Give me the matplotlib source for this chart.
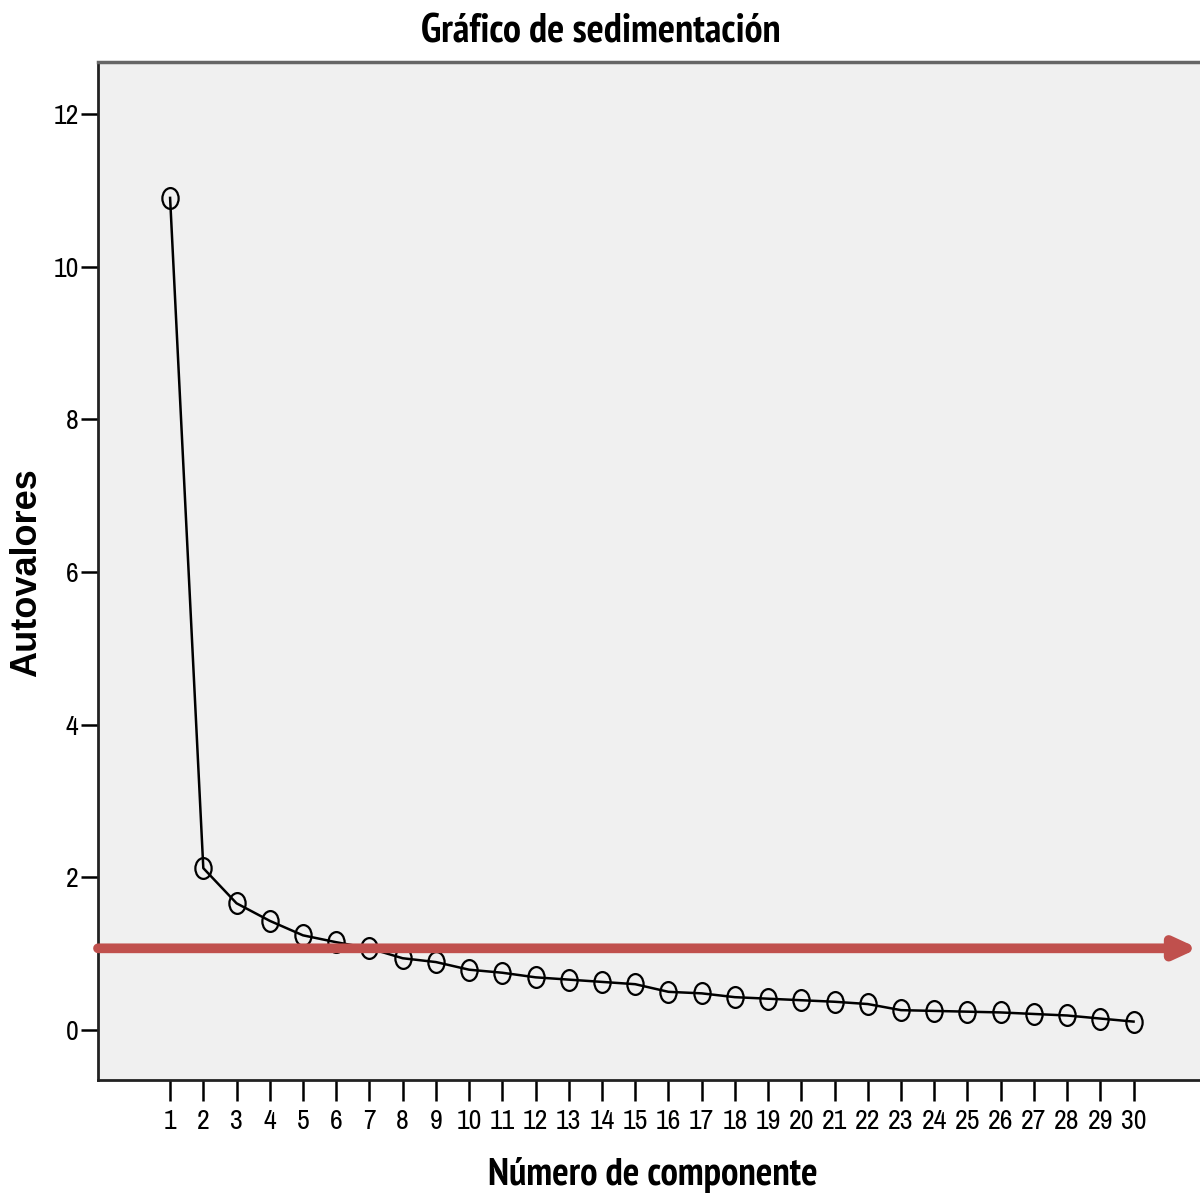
import matplotlib
matplotlib.use("Agg")
import matplotlib.pyplot as plt
from matplotlib.path import Path
from matplotlib.transforms import Affine2D

componentes = list(range(1, 31))
autovalores = [10.90, 2.12, 1.66, 1.43, 1.24, 1.15, 1.07, 0.94, 0.89, 0.79,
               0.75, 0.69, 0.66, 0.63, 0.60, 0.50, 0.48, 0.43, 0.41, 0.39,
               0.37, 0.34, 0.26, 0.25, 0.24, 0.23, 0.21, 0.19, 0.15, 0.11]
corte = 1.07
yticks = [0, 2, 4, 6, 8, 10, 12]

narrow = ['Archivo Narrow', 'DejaVu Sans']
narrow_bold = ['PT Sans Narrow', 'DejaVu Sans']

fig = plt.figure(figsize=(12, 11.97), dpi=100)
ax = fig.add_axes([98/1200, 1 - 1080/1197, (1200-98)/1200, (1080-62)/1197])
ax.set_facecolor('#f0f0f0')

ellipse = Path.unit_circle().transformed(Affine2D().scale(0.78, 1.0))
ax.plot(componentes, autovalores, color='black', lw=1.8, marker=ellipse,
        ms=15, mfc='none', mec='black', mew=1.6, zorder=3)

ax.set_xlim(-1.17, 32.0)
ax.set_ylim(-0.655, 12.68)
ax.set_xticks(componentes)
ax.set_xticklabels([str(c) for c in componentes], family=narrow, fontsize=20)
ax.set_yticks(yticks)
ax.set_yticklabels([str(t) for t in yticks], family=narrow, fontsize=20)
ax.tick_params(axis='x', length=15, width=1.8, pad=6)
ax.tick_params(axis='y', length=12, width=1.8, pad=2)

for s in ['left', 'bottom']:
    ax.spines[s].set_linewidth(2)
    ax.spines[s].set_color('#222222')
ax.spines['top'].set_color('#666666')
ax.spines['top'].set_linewidth(2.5)
ax.spines['right'].set_visible(False)

ax.annotate('', xy=(0.9985, corte), xycoords=('axes fraction', 'data'),
            xytext=(0.0, corte), textcoords=('axes fraction', 'data'),
            arrowprops=dict(arrowstyle='-|>,head_length=1.3,head_width=0.6',
                            color='#c0504d', lw=7, shrinkA=0, shrinkB=0),
            zorder=4)

fig.text(601/1200, 1 - 32/1197, 'Gráfico de sedimentación', ha='center', va='center',
         family=narrow_bold, fontsize=29, fontweight='bold')
fig.text(653/1200, 1 - 1175/1197, 'Número de componente', ha='center', va='center',
         family=narrow_bold, fontsize=28, fontweight='bold')
fig.text(27/1200, 1 - 573/1197, 'Autovalores', ha='center', va='center',
         rotation=90, family=['Liberation Sans', 'DejaVu Sans'], fontsize=26,
         fontweight='bold')

fig.savefig('out.png', dpi=100)
